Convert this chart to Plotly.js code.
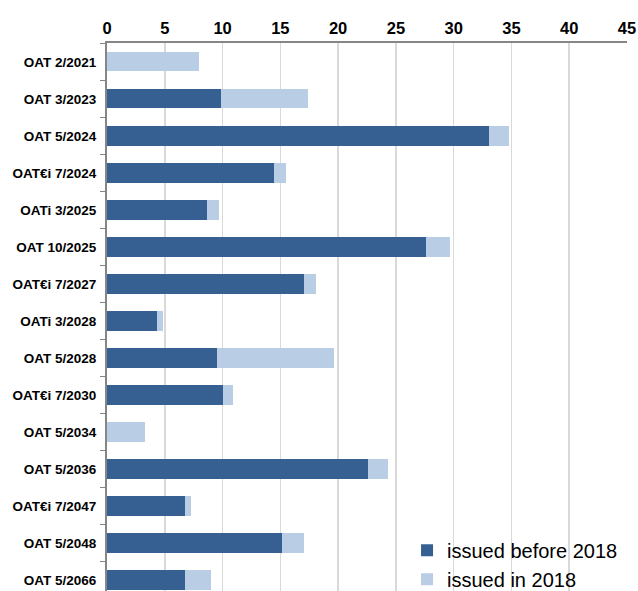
<!DOCTYPE html>
<html>
<head>
<meta charset="utf-8">
<script src="https://cdn.plot.ly/plotly-3.0.1.min.js"></script>
<style>html,body{margin:0;padding:0;background:#fff}#chart{width:638px;height:591px}</style>
</head>
<body>
<div id="chart"></div>
<script>
const categories = ["OAT 2/2021","OAT 3/2023","OAT 5/2024","OAT€i 7/2024","OATi 3/2025","OAT 10/2025","OAT€i 7/2027","OATi 3/2028","OAT 5/2028","OAT€i 7/2030","OAT 5/2034","OAT 5/2036","OAT€i 7/2047","OAT 5/2048","OAT 5/2066"];
const issuedBefore2018 = [0, 9.85, 33.07, 14.48, 8.64, 27.6, 17.08, 4.34, 9.5, 10.0, 0, 22.55, 6.77, 15.18, 6.77];
const issuedIn2018 = [7.98, 7.55, 1.73, 1.02, 1.07, 2.1, 1.02, 0.52, 10.15, 0.9, 3.33, 1.75, 0.49, 1.87, 2.25];
const xTicks = [0,5,10,15,20,25,30,35,40,45];

const font = "Liberation Sans, Arial, sans-serif";
const traces = [
  {type:"bar", orientation:"h", name:"issued before 2018", y:categories, x:issuedBefore2018,
   marker:{color:"#376092"}, width:0.52, hoverinfo:"x+y"},
  {type:"bar", orientation:"h", name:"issued in 2018", y:categories, x:issuedIn2018,
   marker:{color:"#b9cde5"}, width:0.52, hoverinfo:"x+y"}
];
const layout = {
  width:638, height:591,
  margin:{l:107, r:11, t:43, b:0, autoexpand:false},
  paper_bgcolor:"#fff", plot_bgcolor:"#fff",
  barmode:"stack",
  font:{family:font, color:"#000"},
  xaxis:{side:"top", range:[0,45], tickvals:xTicks, ticktext:xTicks.map(String),
    showgrid:true, gridcolor:"#d9d9d9", gridwidth:1.5, zeroline:false,
    showline:true, linecolor:"#868686", linewidth:2, ticks:"", ticklen:0,
    tickfont:{family:font, size:16.5, color:"#000", weight:"bold"}, fixedrange:true},
  yaxis:{type:"category", categoryorder:"array", categoryarray:categories,
    range:[14.3,-0.51], autorange:false, showgrid:false, zeroline:false,
    showline:true, linecolor:"#868686", linewidth:2,
    ticks:"outside", tickson:"boundaries", ticklen:5, tickcolor:"#868686", tickwidth:1.5,
    ticklabelstandoff:6,
    tickfont:{family:font, size:13.5, color:"#000", weight:"bold"}, fixedrange:true},
  showlegend:true,
  legend:{x:0.577, y:-0.014, xanchor:"left", yanchor:"bottom", bgcolor:"rgba(0,0,0,0)",
    traceorder:"normal", font:{family:font, size:20, color:"#000"}, itemwidth:30, tracegroupgap:0}
};
Plotly.newPlot("chart", traces, layout, {displayModeBar:false, staticPlot:true});
</script>
</body>
</html>
